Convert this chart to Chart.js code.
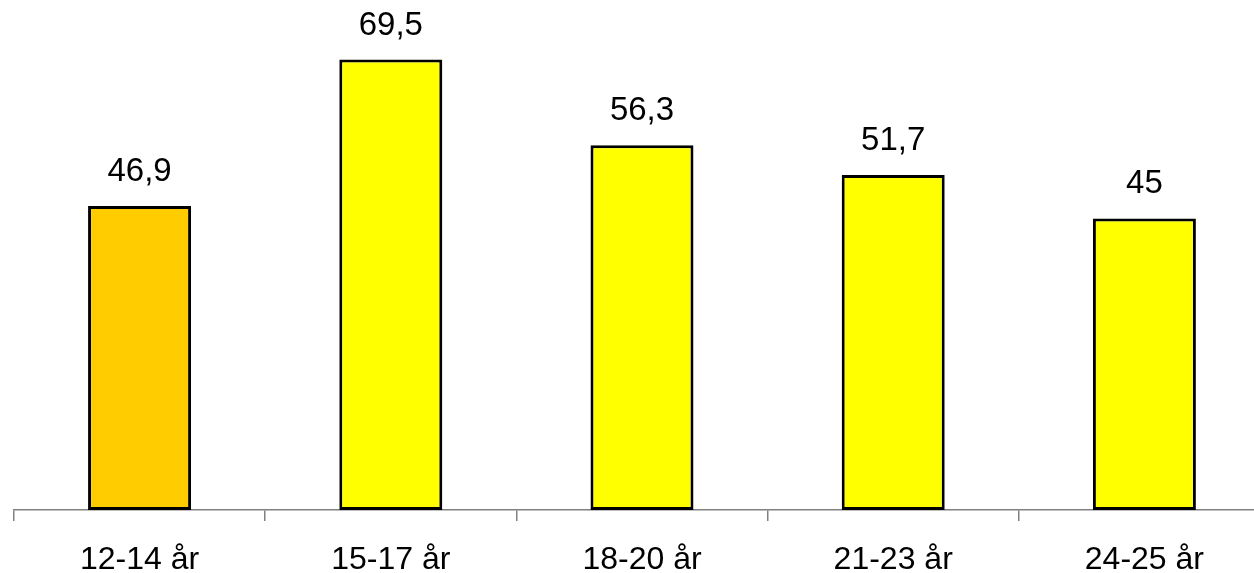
<!DOCTYPE html>
<html lang="sv">
<head>
    <meta charset="UTF-8">
    <title>Andel per ålder</title>
    <script src="https://cdn.jsdelivr.net/npm/chart.js"></script>
    <style>
        html, body { margin: 0; padding: 0; background: #fff; overflow: hidden; }
        #wrap { width: 1280px; height: 573px; }
    </style>
</head>
<body>
    <div id="wrap">
        <canvas id="grafico" width="1280" height="573"></canvas>
    </div>

    <script>
    // data
    const kategorier = ['12-14 år', '15-17 år', '18-20 år', '21-23 år', '24-25 år'];
    const varden = [46.9, 69.5, 56.3, 51.7, 45];
    const farger = ['#FFCC00', '#FFFF00', '#FFFF00', '#FFFF00', '#FFFF00'];

    const fontFamily = '"Liberation Sans", Arial, sans-serif';

    // numbers over the bars, Swedish decimal comma
    const etiketter = {
        id: 'etiketter',
        afterDatasetsDraw(chart) {
            const ctx = chart.ctx;
            const meta = chart.getDatasetMeta(0);
            ctx.save();
            ctx.font = '33px ' + fontFamily;
            ctx.fillStyle = '#000';
            ctx.textAlign = 'center';
            ctx.textBaseline = 'alphabetic';
            meta.data.forEach(function(bar, i) {
                const txt = String(varden[i]).replace('.', ',');
                ctx.fillText(txt, bar.x, bar.y - 25);
            });
            ctx.restore();
        }
    };

    const ctx = document.getElementById('grafico').getContext('2d');
    const chart = new Chart(ctx, {
        type: 'bar',
        data: {
            labels: kategorier,
            datasets: [{
                data: varden,
                backgroundColor: farger,
                borderColor: '#000',
                borderWidth: 3,
                borderSkipped: false,
                categoryPercentage: 1,
                barPercentage: 0.41
            }]
        },
        options: {
            responsive: false,
            animation: false,
            layout: { padding: { left: 14, right: 10, top: 0, bottom: 0 } },
            plugins: {
                legend: { display: false },
                tooltip: { enabled: false }
            },
            scales: {
                y: {
                    display: false,
                    min: 0,
                    max: 78.7
                },
                x: {
                    afterFit(scale) { scale.height = 63; },
                    border: { display: true, color: '#808080', width: 1.5 },
                    grid: {
                        offset: true,
                        drawOnChartArea: false,
                        drawTicks: true,
                        tickLength: 11,
                        lineWidth: 1.5,
                        color: '#808080'
                    },
                    ticks: {
                        color: '#000',
                        padding: 20,
                        font: { family: fontFamily, size: 32 }
                    }
                }
            }
        },
        plugins: [etiketter]
    });
    </script>
</body>
</html>
